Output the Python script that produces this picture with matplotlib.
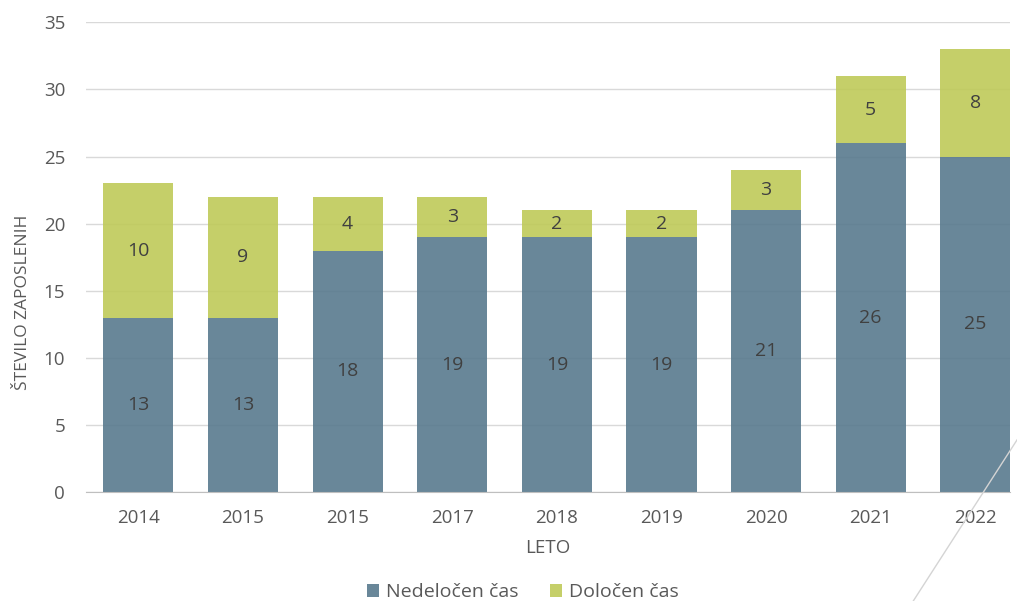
import matplotlib.pyplot as plt
from matplotlib.lines import Line2D
import numpy as np

years = ['2014', '2015', '2015', '2017', '2018', '2019', '2020', '2021', '2022']
nedolocen = [13, 13, 18, 19, 19, 19, 21, 26, 25]
dolocen = [10, 9, 4, 3, 2, 2, 3, 5, 8]

plt.rcParams['font.family'] = ['Open Sans', 'DejaVu Sans']

fig = plt.figure(figsize=(10.17, 6.01), dpi=100)
ax = fig.add_axes([0.0846, 0.181, 0.9084, 0.782])

x = np.arange(len(years))
w = 0.67
b1 = ax.bar(x, nedolocen, w, color='#597a8e', alpha=0.9, zorder=3, label='Nedeločen čas')
b2 = ax.bar(x, dolocen, w, bottom=nedolocen, color='#bfca59', alpha=0.9, zorder=3, label='Določen čas')

for i in range(len(years)):
    ax.text(x[i], nedolocen[i] / 2, str(nedolocen[i]), ha='center', va='center',
            fontsize=14, color='#404040', zorder=4)
    ax.text(x[i], nedolocen[i] + dolocen[i] / 2, str(dolocen[i]), ha='center', va='center',
            fontsize=14, color='#404040', zorder=4)

ax.set_ylim(0, 35)
ax.set_yticks(range(0, 36, 5))
ax.set_xlim(-0.5, 8.33)
ax.set_xticks(x)
ax.set_xticklabels(years)
ax.tick_params(axis='both', length=0, labelsize=13.5, labelcolor='#595959')
ax.tick_params(axis='x', pad=12)
ax.tick_params(axis='y', pad=15)
ax.yaxis.grid(True, color='#d9d9d9', lw=1, zorder=0)
ax.set_axisbelow(True)
for s in ['top', 'right', 'left']:
    ax.spines[s].set_visible(False)
ax.spines['bottom'].set_color('#bfbfbf')
ax.spines['bottom'].set_zorder(5)

ax.set_ylabel('ŠTEVILO ZAPOSLENIH', fontsize=12.5, color='#595959')
ax.yaxis.set_label_coords(-0.06, 0.404)
ax.set_xlabel('LETO', fontsize=13.5, color='#595959', labelpad=9)

fig.legend(handles=[b1, b2], loc='center', bbox_to_anchor=(0.514, 0.015), ncol=2,
           frameon=False, fontsize=14, labelcolor='#595959', handlelength=0.65,
           handleheight=0.65, handletextpad=0.35, columnspacing=1.6)

fig.add_artist(Line2D([1.0, 0.898], [0.268, 0.0], transform=fig.transFigure,
                      color='#d4d4d4', lw=1))

fig.savefig('out.png', dpi=100)
